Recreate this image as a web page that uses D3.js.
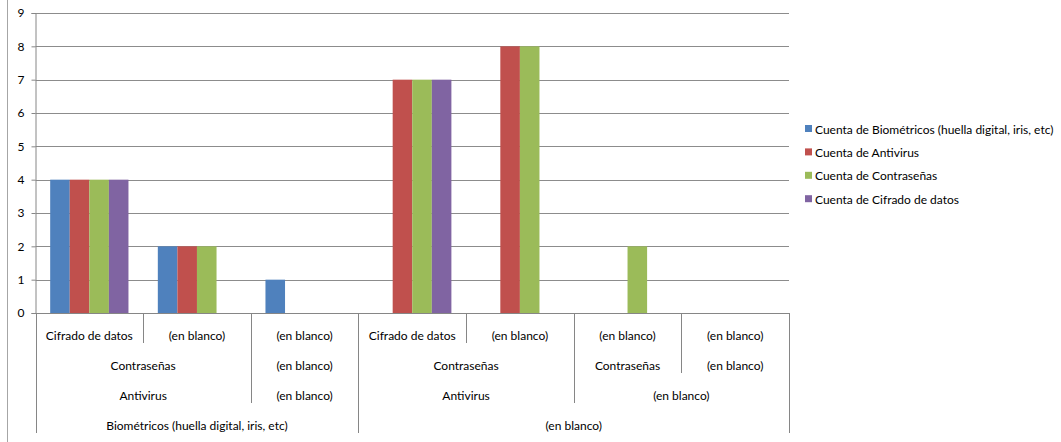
<!DOCTYPE html>
<html>
<head>
<meta charset="utf-8">
<script src="https://cdn.jsdelivr.net/npm/d3@7"></script>
<style>
  html, body { margin: 0; padding: 0; background: #fff; }
  svg { display: block; font-family: Lato, "Open Sans", sans-serif; }
</style>
</head>
<body>
<svg id="chart" width="1061" height="442"></svg>
<script>
// Leaf categories along the bottom axis (innermost level)
const leafLabels = ["Cifrado de datos", "(en blanco)", "(en blanco)", "Cifrado de datos", "(en blanco)", "(en blanco)", "(en blanco)"];
// Outer category levels: [label, number of leaves spanned]
const level2 = [["Contraseñas", 2], ["(en blanco)", 1], ["Contraseñas", 2], ["Contraseñas", 1], ["(en blanco)", 1]];
const level3 = [["Antivirus", 2], ["(en blanco)", 1], ["Antivirus", 2], ["(en blanco)", 2]];
const level4 = [["Biométricos (huella digital, iris, etc)", 3], ["(en blanco)", 4]];

// Series
const seriesNames = [
  "Cuenta de Biométricos (huella digital, iris, etc)",
  "Cuenta de Antivirus",
  "Cuenta de Contraseñas",
  "Cuenta de Cifrado de datos"
];
const biometricos = [4, 2, 1, null, null, null, null];
const antivirus   = [4, 2, null, 7, 8, null, null];
const contrasenas = [4, 2, null, 7, 8, 2, null];
const cifrado     = [4, null, null, 7, null, null, null];
const seriesValues = [biometricos, antivirus, contrasenas, cifrado];
const seriesColors = ["#4F81BD", "#C0504D", "#9BBB59", "#8064A2"];

const yTicks = [0, 1, 2, 3, 4, 5, 6, 7, 8, 9];

const svg = d3.select("#chart");
const plot = { left: 35.5, right: 789, top: 13, bottom: 313 };
const rowH = 30;
const axisColor = "#868686";
const gridColor = "#8c8c8c";
const fontSize = 12;

const y = d3.scaleLinear().domain([0, 9]).range([plot.bottom, plot.top]);
const x0 = d3.scaleBand().domain(d3.range(leafLabels.length)).range([plot.left, plot.right]).paddingInner(0).paddingOuter(0);
const x1 = d3.scaleBand().domain(d3.range(seriesNames.length)).range([0, x0.bandwidth()]).paddingInner(0).paddingOuter(0.75);

// Chart frame edge on the left
svg.append("line").attr("x1", 7.5).attr("x2", 7.5).attr("y1", 0).attr("y2", 442)
  .attr("stroke", "#a6a6a6").attr("stroke-width", 1);

// Horizontal gridlines
svg.append("g").selectAll("line").data(yTicks.filter(d => d > 0)).join("line")
  .attr("x1", plot.left).attr("x2", plot.right)
  .attr("y1", d => Math.round(y(d)) + 0.5).attr("y2", d => Math.round(y(d)) + 0.5)
  .attr("stroke", gridColor).attr("stroke-width", 1);

// Y axis
const yAxis = d3.axisLeft(y).tickValues(yTicks).tickSize(4).tickPadding(7).tickFormat(d3.format("d"));
const yg = svg.append("g").attr("transform", `translate(${plot.left},0)`).call(yAxis);
yg.select(".domain").attr("stroke", axisColor);
yg.selectAll(".tick line").attr("stroke", axisColor);
yg.selectAll(".tick text").attr("font-size", fontSize).attr("fill", "#000").attr("font-family", "Lato, sans-serif");

// Bars
const groups = svg.append("g").selectAll("g").data(leafLabels.map((_, i) => i)).join("g")
  .attr("transform", i => `translate(${x0(i)},0)`);
groups.selectAll("rect")
  .data(i => seriesValues.map((vals, s) => ({ s, v: vals[i] })).filter(d => d.v != null))
  .join("rect")
  .attr("x", d => x1(d.s))
  .attr("width", x1.bandwidth())
  .attr("y", d => y(d.v))
  .attr("height", d => y(0) - y(d.v))
  .attr("fill", d => seriesColors[d.s]);

// X axis baseline
svg.append("line").attr("x1", plot.left).attr("x2", plot.right)
  .attr("y1", plot.bottom + 0.5).attr("y2", plot.bottom + 0.5)
  .attr("stroke", axisColor);

// Multi-level category labels
function spansToRanges(level) {
  let start = 0;
  return level.map(([label, n]) => { const r = { label, start, end: start + n }; start += n; return r; });
}
const levels = [
  leafLabels.map((label, i) => ({ label, start: i, end: i + 1 })),
  spansToRanges(level2),
  spansToRanges(level3),
  spansToRanges(level4)
];
const step = x0.step();
const edgeX = k => plot.left + k * step;

const labelG = svg.append("g").attr("font-size", fontSize).attr("fill", "#000").attr("text-anchor", "middle");
levels.forEach((lvl, li) => {
  labelG.append("g").selectAll("text").data(lvl).join("text")
    .attr("x", d => (edgeX(d.start) + edgeX(d.end)) / 2)
    .attr("y", plot.bottom + rowH * li + 27)
    .text(d => d.label);
});

// Separator lines: each boundary extends down through the deepest level where it splits groups
const n = leafLabels.length;
const boundaryDepth = d3.range(n + 1).map(k => {
  let depth = 0;
  levels.forEach((lvl, li) => {
    if (lvl.some(r => r.start === k || r.end === k)) depth = li + 1;
  });
  return { k, depth };
});
svg.append("g").selectAll("line").data(boundaryDepth).join("line")
  .attr("x1", d => Math.round(edgeX(d.k)) + 0.5).attr("x2", d => Math.round(edgeX(d.k)) + 0.5)
  .attr("y1", plot.bottom).attr("y2", d => plot.bottom + rowH * d.depth)
  .attr("stroke", axisColor).attr("stroke-width", 1);

// Legend
const legend = svg.append("g").attr("transform", "translate(805,129)");
const item = legend.selectAll("g").data(seriesNames).join("g")
  .attr("transform", (d, i) => `translate(0,${i * 23.4})`);
item.append("rect").attr("x", 0).attr("y", -4).attr("width", 7).attr("height", 7)
  .attr("fill", (d, i) => seriesColors[i]);
item.append("text").attr("x", 10).attr("y", 4.5).attr("font-size", fontSize).attr("fill", "#000").text(d => d);
</script>
</body>
</html>
